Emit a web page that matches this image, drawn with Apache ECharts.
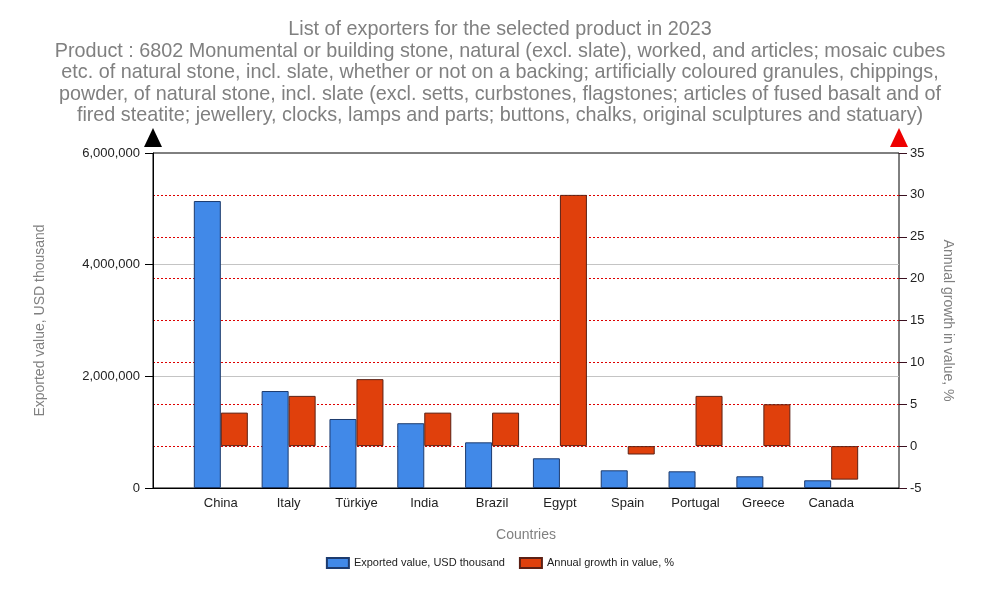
<!DOCTYPE html>
<html>
<head>
<meta charset="utf-8">
<script src="https://cdn.jsdelivr.net/npm/echarts@6/dist/echarts.min.js"></script>
<style>
  html, body { margin: 0; padding: 0; background: #fff; }
  #chartBox { width: 1000px; height: 600px; }
</style>
</head>
<body>
<div id="chartBox"></div>
<script>
  // data
  var countries = ['China', 'Italy', 'Türkiye', 'India', 'Brazil', 'Egypt', 'Spain', 'Portugal', 'Greece', 'Canada'];
  var exportedValue = [5140000, 1737000, 1236000, 1160000, 818000, 532000, 317000, 299000, 210000, 138000];
  var annualGrowth = [4, 6, 8, 4, 4, 30, -1, 6, 5, -4];
  var leftTicks = { min: 0, max: 6000000, interval: 2000000 };
  var rightTicks = { min: -5, max: 35, interval: 5 };

  var titleLines = [
    'List of exporters for the selected product in 2023',
    'Product : 6802 Monumental or building stone, natural (excl. slate), worked, and articles; mosaic cubes',
    'etc. of natural stone, incl. slate, whether or not on a backing; artificially coloured granules, chippings,',
    'powder, of natural stone, incl. slate (excl. setts, curbstones, flagstones; articles of fused basalt and of',
    'fired steatite; jewellery, clocks, lamps and parts; buttons, chalks, original sculptures and statuary)'
  ];

  var font = 'Liberation Sans, Arial, sans-serif';
  var chart = echarts.init(document.getElementById('chartBox'));

  // countries sit on positions 1..10 of a 0..11 value axis
  var blueData = exportedValue.map(function (v, i) { return [i + 1, v]; });
  var redData = annualGrowth.map(function (v, i) { return [i + 1, v]; });

  var option = {
    animation: false,
    textStyle: { fontFamily: font },
    title: {
      text: titleLines.join('\n'),
      left: 'center',
      top: 14,
      textStyle: { fontSize: 19.8, fontWeight: 'normal', color: '#808080', lineHeight: 21.5, fontFamily: font }
    },
    legend: {
      bottom: 26,
      left: 'center',
      icon: 'rect',
      itemWidth: 22,
      itemHeight: 10,
      itemGap: 14,
      textStyle: { fontSize: 11, color: '#222', fontFamily: font },
      data: ['Exported value, USD thousand', 'Annual growth in value, %']
    },
    grid: {
      left: 153, right: 101, top: 153, bottom: 112,
      show: true, borderColor: '#000', borderWidth: 1, backgroundColor: 'transparent'
    },
    xAxis: {
      type: 'value',
      min: 0, max: 11, interval: 1,
      name: 'Countries',
      nameLocation: 'middle',
      nameGap: 40,
      nameTextStyle: { color: '#808080', fontSize: 14 },
      axisLine: { lineStyle: { color: '#000' } },
      axisTick: { show: false },
      splitLine: { show: false },
      axisLabel: {
        margin: 9, fontSize: 13, color: '#222',
        formatter: function (v) { return countries[v - 1] || ''; }
      }
    },
    yAxis: [{
      type: 'value',
      position: 'left',
      min: leftTicks.min, max: leftTicks.max, interval: leftTicks.interval,
      name: 'Exported value, USD thousand',
      nameLocation: 'middle',
      nameGap: 106,
      nameTextStyle: { color: '#808080', fontSize: 14 },
      axisLine: {
        show: true,
        lineStyle: { color: '#000' },
        symbol: ['none', 'triangle'],
        symbolSize: [18, 19],
        symbolOffset: [0, 15.5]
      },
      axisTick: { show: true, inside: false, length: 8, lineStyle: { color: '#000' } },
      axisLabel: {
        fontSize: 13, color: '#222', margin: 13,
        formatter: function (v) { return v.toLocaleString('en-US'); }
      },
      splitLine: { show: true, showMaxLine: false, showMinLine: false, lineStyle: { color: '#c4c4c4', width: 1 } }
    }, {
      type: 'value',
      position: 'right',
      min: rightTicks.min, max: rightTicks.max, interval: rightTicks.interval,
      name: 'Annual growth in value, %',
      nameLocation: 'middle',
      nameRotate: -90,
      nameGap: 42,
      nameTextStyle: { color: '#808080', fontSize: 14 },
      axisLine: {
        show: true,
        lineStyle: { color: '#ee0000', width: 0 },
        symbol: ['none', 'triangle'],
        symbolSize: [18, 19],
        symbolOffset: [0, 15.5]
      },
      axisTick: { show: true, inside: false, length: 8, lineStyle: { color: '#3a1020' } },
      axisLabel: { fontSize: 13, color: '#222', margin: 11 },
      splitLine: {
        show: true, showMaxLine: false, showMinLine: false,
        lineStyle: { color: ['#dd0000'], type: [2, 2], width: 1, opacity: 1 }
      }
    }],
    series: [{
      name: 'Exported value, USD thousand',
      type: 'bar',
      yAxisIndex: 0,
      barWidth: 27,
      barGap: '0%',
      itemStyle: { color: '#4189e8', borderColor: '#1d3b6e', borderWidth: 1 },
      data: blueData
    }, {
      name: 'Annual growth in value, %',
      type: 'bar',
      yAxisIndex: 1,
      barWidth: 27,
      barGap: '0%',
      itemStyle: { color: '#e0400c', borderColor: '#5c2014', borderWidth: 1 },
      data: redData
    }]
  };

  chart.setOption(option);
</script>
</body>
</html>
